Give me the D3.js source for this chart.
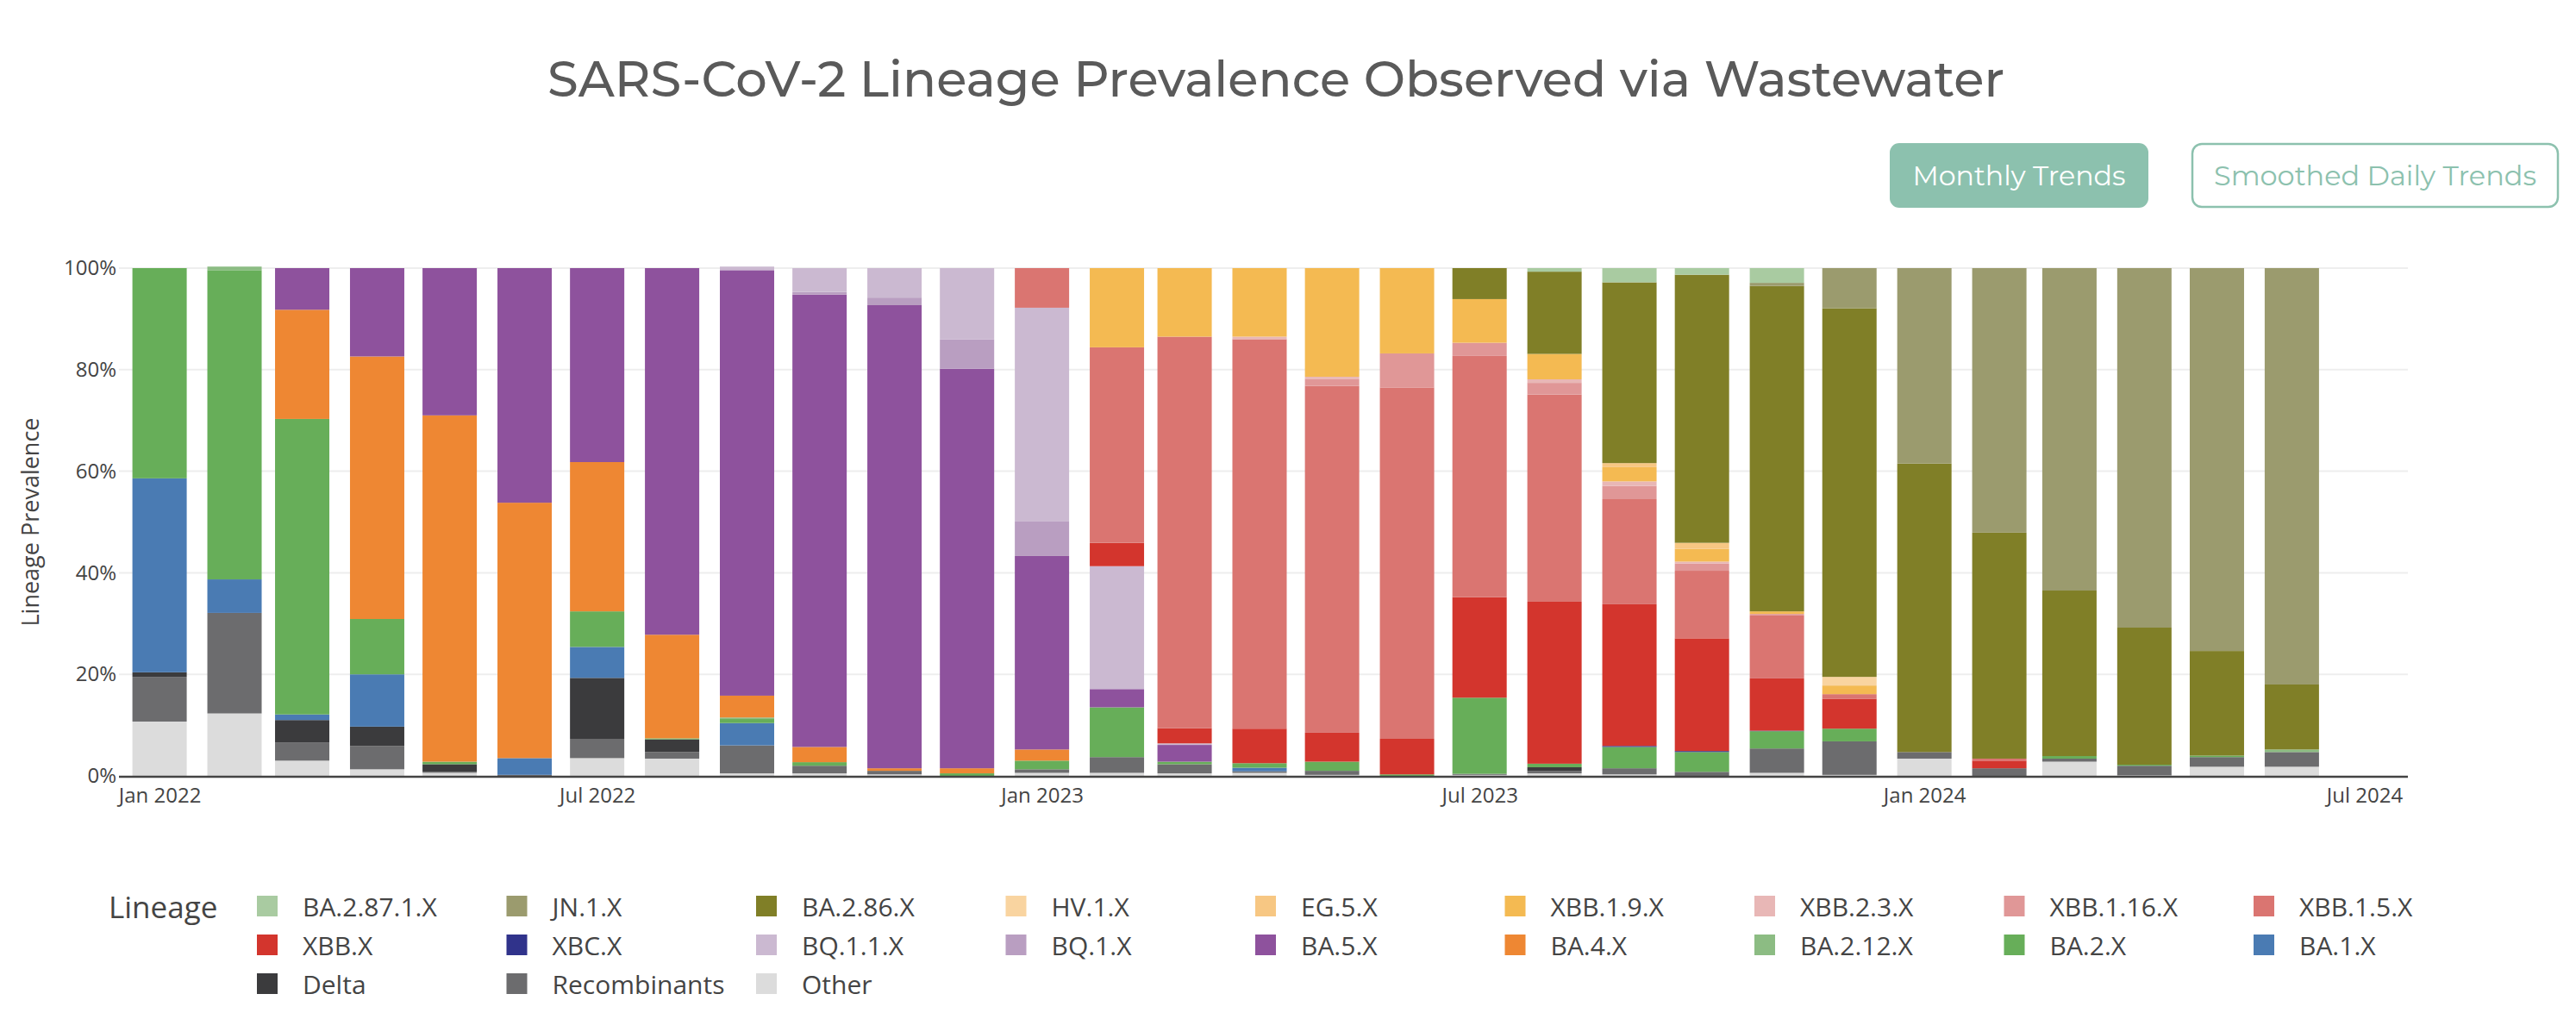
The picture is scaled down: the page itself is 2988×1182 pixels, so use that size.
<!DOCTYPE html>
<html>
<head>
<meta charset="utf-8">
<script src="https://cdn.jsdelivr.net/npm/d3@7"></script>
<style>
  html, body { margin: 0; padding: 0; background: #fff; }
  svg { display: block; }
</style>
</head>
<body>
<svg id="chart" width="2988" height="1182"></svg>
<script>
// ---------------- DATA ----------------
const months = ["2022-01","2022-02","2022-03","2022-04","2022-05","2022-06","2022-07","2022-08","2022-09","2022-10","2022-11","2022-12",
                "2023-01","2023-02","2023-03","2023-04","2023-05","2023-06","2023-07","2023-08","2023-09","2023-10","2023-11","2023-12",
                "2024-01","2024-02","2024-03","2024-04","2024-05","2024-06"];

// Legend order (row-major); stacking is bottom-up in reverse of this order
const lineages = ["BA.2.87.1.X","JN.1.X","BA.2.86.X","HV.1.X","EG.5.X","XBB.1.9.X","XBB.2.3.X","XBB.1.16.X","XBB.1.5.X",
                  "XBB.X","XBC.X","BQ.1.1.X","BQ.1.X","BA.5.X","BA.4.X","BA.2.12.X","BA.2.X","BA.1.X",
                  "Delta","Recombinants","Other"];

const colors = ["#a9cba1","#9b9b6e","#807f27","#f9d4a0","#f7c783","#f4ba52","#e8b7b6","#e09797","#da7571",
                "#d3352d","#30338b","#cbb9d1","#b99ec1","#8e529d","#ee8733","#8cbc83","#67ae59","#4a7bb3",
                "#3b3b3d","#6c6c6e","#dcdcdc"];

// prevalence in percent, one value per month
const other        = [10.7,12.3,3.0,1.3,0.6,0,3.5,3.4,0.5,0.5,0.3,0,0.6,0.6,0.5,0.6,0.2,0,0.2,0.5,0.3,0,0.6,0.2,3.4,0,2.8,0.1,1.8,1.8];
const recombinants = [8.8,19.8,3.6,4.6,0.2,0.2,3.8,1.3,5.5,1.5,0.7,0,0.7,3.1,1.8,0.3,0.8,0,0.2,0.5,1.2,0.8,4.8,6.6,1.3,1.5,0.6,1.9,1.9,2.9];
const delta        = [0.9,0,4.4,3.8,1.5,0,12.0,2.5,0,0,0,0,0,0,0,0,0,0,0,0.7,0,0,0,0,0,0,0,0,0,0];
const ba1          = [38.2,6.6,1.1,10.3,0,3.3,6.1,0,4.4,0,0,0,0,0,0,0.7,0,0,0,0,0,0,0,0,0,0,0,0,0,0];
const ba2          = [41.4,60.9,58.2,10.9,0.5,0,7.0,0.2,0.8,0.7,0,0.5,1.7,9.8,0.5,0.9,1.8,0.3,15.0,0.7,4.2,3.9,3.4,2.5,0,0,0.5,0.2,0.3,0];
const ba212        = [0,0.7,0,0,0,0,0,0,0.3,0,0,0,0,0,0,0,0,0,0,0,0,0,0,0,0,0,0,0,0,0.5];
const ba4          = [0,0,21.5,51.7,68.2,50.3,29.4,20.4,4.3,3.0,0.5,1.0,2.2,0,0,0,0,0,0,0,0,0,0,0,0,0,0,0,0,0];
const ba5          = [0,0,8.2,17.4,29.0,46.2,38.2,72.2,83.8,89.1,91.2,78.7,38.1,3.6,3.3,0,0,0,0,0,0,0,0,0,0,0,0,0,0,0];
const bq1          = [0,0,0,0,0,0,0,0,0,0.5,1.5,5.8,6.9,0,0,0,0,0,0,0,0,0,0,0,0,0,0,0,0,0];
const bq11         = [0,0,0,0,0,0,0,0,0.7,4.7,5.8,14.0,42.0,24.2,0.3,0,0,0,0,0,0,0,0,0,0,0,0,0,0,0];
const xbc          = [0,0,0,0,0,0,0,0,0,0,0,0,0,0,0,0,0,0,0,0,0.2,0.2,0.1,0,0,0,0,0,0,0];
const xbb          = [0,0,0,0,0,0,0,0,0,0,0,0,0,4.6,3.0,6.8,5.7,7.0,19.8,31.9,27.9,22.2,10.3,5.9,0,1.5,0,0,0,0];
const xbb15        = [0,0,0,0,0,0,0,0,0,0,0,0,7.8,38.5,77.1,76.7,68.3,69.2,47.5,40.8,20.7,13.3,12.4,0.9,0,0.4,0,0,0,0];
const xbb116       = [0,0,0,0,0,0,0,0,0,0,0,0,0,0,0,0,1.4,6.7,2.6,2.3,2.6,1.4,0.3,0,0,0,0,0,0,0];
const xbb23        = [0,0,0,0,0,0,0,0,0,0,0,0,0,0,0,0.5,0.4,0,0,0.7,0.9,0.4,0,0,0,0,0,0,0,0];
const xbb19        = [0,0,0,0,0,0,0,0,0,0,0,0,0,15.6,13.5,13.5,21.4,16.8,8.6,5.0,2.8,2.5,0.5,1.7,0,0,0,0,0,0];
const eg5          = [0,0,0,0,0,0,0,0,0,0,0,0,0,0,0,0,0,0,0,0,0.8,1.2,0,0,0,0,0,0,0,0];
const hv1          = [0,0,0,0,0,0,0,0,0,0,0,0,0,0,0,0,0,0,0,0,0,0,0,1.7,0,0,0,0,0,0];
const ba286        = [0,0,0,0,0,0,0,0,0,0,0,0,0,0,0,0,0,0,6.1,16.2,35.6,52.8,64.1,72.6,56.8,44.5,32.6,27.0,20.6,12.8];
const jn1          = [0,0,0,0,0,0,0,0,0,0,0,0,0,0,0,0,0,0,0,0,0,0,0.6,7.9,38.5,52.1,63.5,70.8,75.4,82.0];
const ba2871       = [0,0,0,0,0,0,0,0,0,0,0,0,0,0,0,0,0,0,0,0.7,2.8,1.3,2.9,0,0,0,0,0,0,0];

const seriesValues = [ba2871, jn1, ba286, hv1, eg5, xbb19, xbb23, xbb116, xbb15,
                      xbb, xbc, bq11, bq1, ba5, ba4, ba212, ba2, ba1,
                      delta, recombinants, other];

const yTicks = [0, 20, 40, 60, 80, 100];
const xTickDates = ["2022-01-01","2022-07-01","2023-01-01","2023-07-01","2024-01-01","2024-07-01"];

// ---------------- LAYOUT ----------------
const svg = d3.select("#chart");
const plot = {left: 138, right: 2793, top: 311, bottom: 900};
const parseMonth = d3.timeParse("%Y-%m");
const parseDay = d3.timeParse("%Y-%m-%d");

const x = d3.scaleTime()
  .domain([new Date(2021, 11, 15, 5), new Date(2024, 6, 19)])
  .range([plot.left, plot.right]);
const y = d3.scaleLinear().domain([0, 100]).range([plot.bottom, plot.top]);

// table for stacking
const table = months.map((m, i) => {
  const row = {date: parseMonth(m)};
  lineages.forEach((l, k) => row[l] = seriesValues[k][i]);
  return row;
});
const stackKeys = lineages.slice().reverse();
const stacked = d3.stack().keys(stackKeys)(table);
const color = d3.scaleOrdinal().domain(lineages).range(colors);

// Title
svg.append("text")
  .attr("x", 1480).attr("y", 112)
  .attr("text-anchor", "middle")
  .attr("font-family", "Montserrat, Inter, 'Noto Sans', sans-serif")
  .attr("font-size", 58)
  .attr("font-weight", 500)
  .attr("fill", "#5a5a5a")
  .attr("textLength", 1690)
  .attr("lengthAdjust", "spacingAndGlyphs")
  .text("SARS-CoV-2 Lineage Prevalence Observed via Wastewater");

// Buttons
const btnFont = "Montserrat, Inter, 'Noto Sans', sans-serif";
svg.append("rect").attr("x", 2192).attr("y", 166).attr("width", 300).attr("height", 75)
  .attr("rx", 11).attr("fill", "#8cc1ae");
svg.append("text").attr("x", 2342).attr("y", 215).attr("text-anchor", "middle")
  .attr("font-family", btnFont).attr("font-size", 31).attr("fill", "#fff")
  .attr("textLength", 247).attr("lengthAdjust", "spacingAndGlyphs")
  .text("Monthly Trends");
svg.append("rect").attr("x", 2543).attr("y", 167).attr("width", 424).attr("height", 73)
  .attr("rx", 11).attr("fill", "#fff").attr("stroke", "#8cc1ae").attr("stroke-width", 2.5);
svg.append("text").attr("x", 2755).attr("y", 215).attr("text-anchor", "middle")
  .attr("font-family", btnFont).attr("font-size", 31).attr("fill", "#8cc1ae")
  .attr("textLength", 374).attr("lengthAdjust", "spacingAndGlyphs")
  .text("Smoothed Daily Trends");

// Gridlines
svg.append("g").selectAll("line").data(yTicks.filter(d => d > 0)).join("line")
  .attr("x1", plot.left).attr("x2", plot.right)
  .attr("y1", d => y(d)).attr("y2", d => y(d))
  .attr("stroke", "#eeeeee").attr("stroke-width", 2);

// Bars
const barW = 63;
svg.append("g").selectAll("g").data(stacked).join("g")
  .attr("fill", d => color(d.key))
  .selectAll("rect").data(d => d.filter(s => s[1] - s[0] > 0)).join("rect")
  .attr("x", d => x(d.data.date) - barW / 2)
  .attr("width", barW)
  .attr("y", d => y(d[1]))
  .attr("height", d => y(d[0]) - y(d[1]));

// Y axis
const yAxis = d3.axisLeft(y).tickValues(yTicks).tickFormat(d => d + "%").tickSize(0).tickPadding(3);
const gy = svg.append("g").attr("transform", `translate(${plot.left},0)`).call(yAxis);
gy.select(".domain").remove();
gy.selectAll("text").attr("font-family", "'Open Sans', sans-serif").attr("font-size", 24).attr("fill", "#444");

// X axis
const xAxis = d3.axisBottom(x).tickValues(xTickDates.map(parseDay)).tickFormat(d3.timeFormat("%b %Y")).tickSize(0).tickPadding(8);
const gx = svg.append("g").attr("transform", `translate(0,${plot.bottom})`).call(xAxis);
gx.select(".domain").remove();
gx.selectAll("text").attr("font-family", "'Open Sans', sans-serif").attr("font-size", 24).attr("fill", "#444").attr("dy", "0.95em");

// Axis line
svg.append("line").attr("x1", plot.left).attr("x2", plot.right)
  .attr("y1", y(0) + 1).attr("y2", y(0) + 1)
  .attr("stroke", "#444").attr("stroke-width", 2.5);

// Y title
svg.append("text")
  .attr("transform", `translate(45,${(plot.top + plot.bottom) / 2}) rotate(-90)`)
  .attr("text-anchor", "middle")
  .attr("font-family", "'Open Sans', sans-serif").attr("font-size", 27).attr("fill", "#444")
  .text("Lineage Prevalence");

// Legend
const leg = svg.append("g");
leg.append("text").attr("x", 126).attr("y", 1065)
  .attr("font-family", "'Open Sans', sans-serif").attr("font-size", 35).attr("fill", "#444")
  .text("Lineage");
const colStep = 289.5, rowStep = 45;
lineages.forEach((l, i) => {
  const c = i % 9, r = Math.floor(i / 9);
  const gx0 = 298 + c * colStep, gy0 = 1039 + r * rowStep;
  leg.append("rect").attr("x", gx0).attr("y", gy0).attr("width", 24).attr("height", 24)
    .attr("fill", color(l));
  leg.append("text").attr("x", gx0 + 53).attr("y", gy0 + 24)
    .attr("font-family", "'Open Sans', sans-serif").attr("font-size", 30).attr("fill", "#444")
    .text(l);
});
</script>
</body>
</html>
